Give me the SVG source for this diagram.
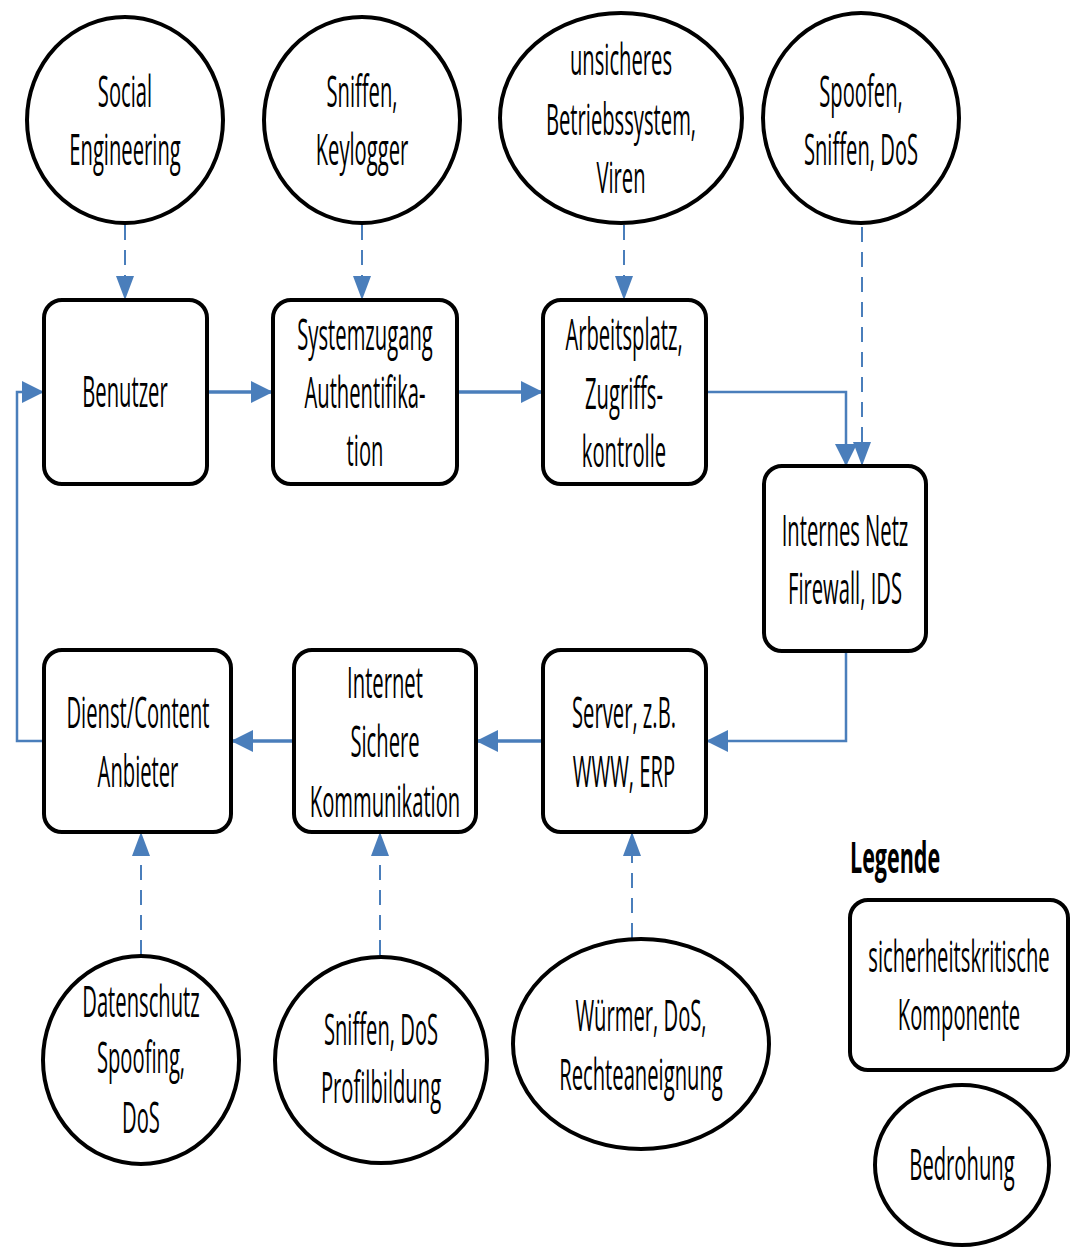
<svg xmlns="http://www.w3.org/2000/svg" width="1088" height="1258" viewBox="0 0 1088 1258">
<style>
.box{fill:#fff;stroke:#000;stroke-width:4}
.thr{fill:#fff;stroke:#000;stroke-width:4}
.t{font-family:"Open Sans","Noto Sans","Liberation Sans",sans-serif;font-size:43px;text-anchor:middle;fill:#000}
.c{fill:none;stroke:#4a7ebb;stroke-width:3.5}
.c2{fill:none;stroke:#4a7ebb;stroke-width:2.5}
.d{fill:none;stroke:#4a7ebb;stroke-width:2;stroke-dasharray:15,10}
</style>
<defs>
<marker id="a" markerUnits="userSpaceOnUse" viewBox="0 0 22 22" markerWidth="22" markerHeight="22" refX="22" refY="11" orient="auto"><path d="M0,0 L22,11 L0,22 z" fill="#4a7ebb"/></marker>
<marker id="ad" markerUnits="userSpaceOnUse" viewBox="0 0 24 18" markerWidth="24" markerHeight="18" refX="24" refY="9" orient="auto"><path d="M0,0 L24,9 L0,18 z" fill="#4a7ebb"/></marker>
</defs>
<rect width="1088" height="1258" fill="#fff"/>

<g id="connectors">
<line class="c" x1="207" y1="392" x2="273" y2="392" marker-end="url(#a)"/>
<line class="c" x1="457" y1="392" x2="543" y2="392" marker-end="url(#a)"/>
<polyline class="c2" points="706,392 846,392 846,466" marker-end="url(#a)"/>
<polyline class="c2" points="846,651 846,741 706,741" marker-end="url(#a)"/>
<line class="c" x1="543" y1="741" x2="476" y2="741" marker-end="url(#a)"/>
<line class="c" x1="294" y1="741" x2="231" y2="741" marker-end="url(#a)"/>
<polyline class="c2" points="44,741 17,741 17,392 44,392" marker-end="url(#a)"/>
<line class="d" x1="125" y1="225" x2="125" y2="300" marker-end="url(#ad)"/>
<line class="d" x1="362" y1="225" x2="362" y2="300" marker-end="url(#ad)"/>
<line class="d" x1="624" y1="225" x2="624" y2="300" marker-end="url(#ad)"/>
<line class="d" x1="862" y1="227" x2="862" y2="466" marker-end="url(#ad)"/>
<line class="d" x1="141" y1="955" x2="141" y2="832" marker-end="url(#ad)"/>
<line class="d" x1="380" y1="955" x2="380" y2="832" marker-end="url(#ad)"/>
<line class="d" x1="632" y1="938" x2="632" y2="832" marker-end="url(#ad)"/>
</g>

<g id="social">
<ellipse class="thr" cx="125" cy="120" rx="98" ry="103"/>
<text class="t" transform="translate(125,0) scale(0.47,1)"><tspan x="0" y="107">Social</tspan><tspan x="0" y="165">Engineering</tspan></text>
</g>
<g id="sniffen-keylogger">
<ellipse class="thr" cx="362" cy="120" rx="98" ry="103"/>
<text class="t" transform="translate(362,0) scale(0.47,1)"><tspan x="0" y="107">Sniffen,</tspan><tspan x="0" y="165">Keylogger</tspan></text>
</g>
<g id="betriebssystem">
<ellipse class="thr" cx="621" cy="118" rx="121" ry="105"/>
<text class="t" transform="translate(621,0) scale(0.47,1)"><tspan x="0" y="75">unsicheres</tspan><tspan x="0" y="135">Betriebssystem,</tspan><tspan x="0" y="193">Viren</tspan></text>
</g>
<g id="spoofen">
<ellipse class="thr" cx="861" cy="118" rx="98" ry="105"/>
<text class="t" transform="translate(861,0) scale(0.47,1)"><tspan x="0" y="107">Spoofen,</tspan><tspan x="0" y="165">Sniffen, DoS</tspan></text>
</g>

<g id="benutzer">
<rect class="box" x="44" y="300" width="163" height="184" rx="18"/>
<text class="t" transform="translate(125,0) scale(0.47,1)"><tspan x="0" y="407">Benutzer</tspan></text>
</g>
<g id="systemzugang">
<rect class="box" x="273" y="300" width="184" height="184" rx="18"/>
<text class="t" transform="translate(365,0) scale(0.47,1)"><tspan x="0" y="350">Systemzugang</tspan><tspan x="0" y="408">Authentifika-</tspan><tspan x="0" y="466">tion</tspan></text>
</g>
<g id="arbeitsplatz">
<rect class="box" x="543" y="300" width="163" height="184" rx="18"/>
<text class="t" transform="translate(624,0) scale(0.47,1)"><tspan x="0" y="350">Arbeitsplatz,</tspan><tspan x="0" y="409">Zugriffs-</tspan><tspan x="0" y="467">kontrolle</tspan></text>
</g>
<g id="internes-netz">
<rect class="box" x="764" y="466" width="162" height="185" rx="18"/>
<text class="t" transform="translate(845,0) scale(0.47,1)"><tspan x="0" y="546">Internes Netz</tspan><tspan x="0" y="604">Firewall, IDS</tspan></text>
</g>
<g id="dienst">
<rect class="box" x="44" y="650" width="187" height="182" rx="18"/>
<text class="t" transform="translate(138,0) scale(0.47,1)"><tspan x="0" y="728">Dienst/Content</tspan><tspan x="0" y="787">Anbieter</tspan></text>
</g>
<g id="internet">
<rect class="box" x="294" y="650" width="182" height="182" rx="18"/>
<text class="t" transform="translate(385,0) scale(0.47,1)"><tspan x="0" y="698">Internet</tspan><tspan x="0" y="757">Sichere</tspan><tspan x="0" y="817">Kommunikation</tspan></text>
</g>
<g id="server">
<rect class="box" x="543" y="650" width="163" height="182" rx="18"/>
<text class="t" transform="translate(624,0) scale(0.47,1)"><tspan x="0" y="728">Server, z.B.</tspan><tspan x="0" y="787">WWW, ERP</tspan></text>
</g>

<g id="datenschutz">
<ellipse class="thr" cx="141" cy="1060" rx="98" ry="104"/>
<text class="t" transform="translate(141,0) scale(0.47,1)"><tspan x="0" y="1017">Datenschutz</tspan><tspan x="0" y="1073">Spoofing,</tspan><tspan x="0" y="1133">DoS</tspan></text>
</g>
<g id="sniffen-dos">
<ellipse class="thr" cx="381" cy="1060" rx="106" ry="103"/>
<text class="t" transform="translate(381,0) scale(0.47,1)"><tspan x="0" y="1045">Sniffen, DoS</tspan><tspan x="0" y="1103">Profilbildung</tspan></text>
</g>
<g id="wuermer">
<ellipse class="thr" cx="641" cy="1044" rx="128" ry="105"/>
<text class="t" transform="translate(641,0) scale(0.47,1)"><tspan x="0" y="1031">Würmer, DoS,</tspan><tspan x="0" y="1090">Rechteaneignung</tspan></text>
</g>

<g id="legend">
<text class="t" style="font-weight:bold;text-anchor:start" transform="translate(850,0) scale(0.5,1)"><tspan x="0" y="873">Legende</tspan></text>
<rect class="box" x="850" y="900" width="218" height="170" rx="18"/>
<text class="t" transform="translate(959,0) scale(0.47,1)"><tspan x="0" y="972">sicherheitskritische</tspan><tspan x="0" y="1030">Komponente</tspan></text>
<ellipse class="thr" cx="962" cy="1165" rx="87" ry="80"/>
<text class="t" transform="translate(962,0) scale(0.47,1)"><tspan x="0" y="1180">Bedrohung</tspan></text>
</g>
</svg>
